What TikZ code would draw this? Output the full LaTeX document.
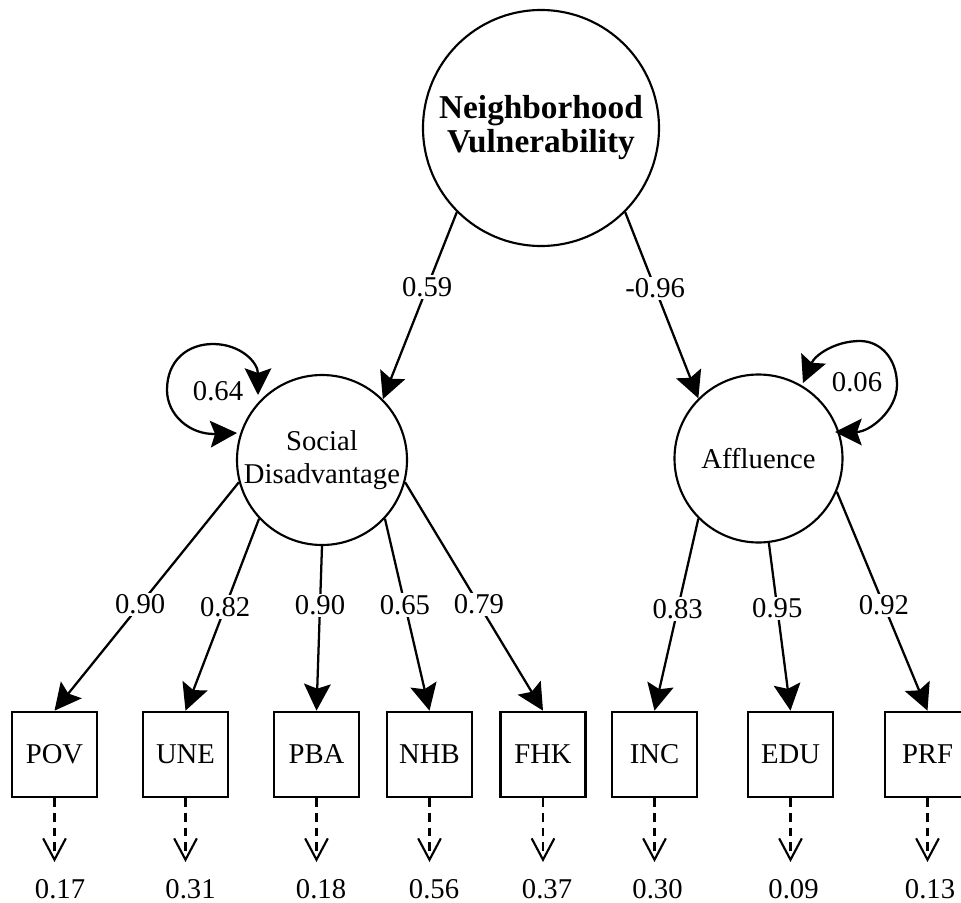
\documentclass[tikz,border=0pt]{standalone}
\usepackage{fontspec}
\setmainfont{Liberation Serif}
\usetikzlibrary{arrows.meta}
\begin{document}
\begin{tikzpicture}[x=0.75pt,y=-0.75pt,
  lat/.style={circle,draw,line width=1.6pt,inner sep=0pt,align=center,font=\fontsize{21.5}{25}\selectfont},
  obs/.style={draw,line width=2pt,minimum size=63.75pt,inner sep=0pt,font=\fontsize{21.5}{25}\selectfont},
  load/.style={line width=1.7pt,-{Stealth[length=20pt,width=20pt,inset=3.5pt]}},
  var/.style={line width=1.7pt,{Stealth[length=20pt,width=20pt,inset=3.5pt]}-{Stealth[length=20pt,width=20pt,inset=3.5pt]}},
  err/.style={line width=1.6pt,dash pattern=on 6.5pt off 4.5pt,-{Straight Barb[length=16pt,width=17pt]}},
  lbl/.style={fill=white,inner sep=1.5pt,font=\fontsize{21.5}{25}\selectfont},
  num/.style={inner sep=0pt,font=\fontsize{21.5}{25}\selectfont}]
\useasboundingbox (0,0) rectangle (961,903);
\clip (0,0) rectangle (961,903);

% latent variables
\node[lat,minimum size=177pt,font=\bfseries\fontsize{25}{25.5}\selectfont] (nv) at (541,128) {Neighborhood\\Vulnerability};
\node[lat,minimum size=127.5pt] (sd) at (322,460) {Social\\Disadvantage};
\node[lat,minimum size=126pt] (af) at (758.5,458.5) {Affluence};

% observed variables
\node[obs] (pov) at (54.5,754.5) {POV};
\node[obs] (une) at (185.5,754.5) {UNE};
\node[obs] (pba) at (316.5,754.5) {PBA};
\node[obs] (nhb) at (429.5,754.5) {NHB};
\node[obs] (fhk) at (543,754.5) {FHK};
\node[obs] (inc) at (654.5,754.5) {INC};
\node[obs] (edu) at (790.5,754.5) {EDU};
\node[obs] (prf) at (927.5,754.5) {PRF};

% second-order loadings
\draw[load] (nv.225) -- node[lbl,pos=.40]{0.59} (sd.45);
\draw[load] (nv.315) -- node[lbl,pos=.41]{-0.96} (af.135);

% first-order loadings
\draw[load] (sd.195) -- node[lbl,pos=.535]{0.90} (pov.north);
\draw[load] (sd.223) -- node[lbl,pos=.46]{0.82} (une.north);
\draw[load] (sd.270) -- node[lbl,pos=.36]{0.90} (pba.north);
\draw[load] (sd.317) -- node[lbl,pos=.45]{0.65} (nhb.north);
\draw[load] (sd.345) -- node[lbl,pos=.535]{0.79} (fhk.north);
\draw[load] (af.225) -- node[lbl,pos=.47]{0.83} (inc.north);
\draw[load] (af.277) -- node[lbl,pos=.39]{0.95} (edu.north);
\draw[load] (af.337) -- node[lbl,pos=.52]{0.92} (prf.north);

% residual variances of latent factors
\coordinate (sdA) at (237,433);
\coordinate (sdB) at (258,395);
\draw[var] (sdA) .. controls (190,435) and (167,415) .. (167,390)
  .. controls (167,360) and (188,344) .. (213,344)
  .. controls (240,344) and (258,362) .. (sdB);
\node[num] (sdv) at (218,391) {0.64};

\coordinate (afA) at (835,432);
\coordinate (afB) at (803,383);
\draw[var] (afA) .. controls (870,432) and (897,410) .. (897,385)
  .. controls (897,358) and (880,341) .. (860,341)
  .. controls (835,341) and (815,355) .. (afB);
\node[num] (afv) at (857,382) {0.06};

% error terms
\coordinate (e1) at (54.5,862);
\coordinate (e2) at (185.5,862);
\coordinate (e3) at (316.5,862);
\coordinate (e4) at (429.5,862);
\coordinate (e5) at (543,862);
\coordinate (e6) at (654.5,862);
\coordinate (e7) at (790.5,862);
\coordinate (e8) at (927.5,862);
\draw[err] (pov.south) -- (e1);
\draw[err] (une.south) -- (e2);
\draw[err] (pba.south) -- (e3);
\draw[err] (nhb.south) -- (e4);
\draw[err] (fhk.south) -- (e5);
\draw[err] (inc.south) -- (e6);
\draw[err] (edu.south) -- (e7);
\draw[err] (prf.south) -- (e8);
\node[num] (r1) at (60,889) {0.17};
\node[num] (r2) at (190.5,889) {0.31};
\node[num] (r3) at (321,889) {0.18};
\node[num] (r4) at (434,889) {0.56};
\node[num] (r5) at (547,889) {0.37};
\node[num] (r6) at (657.5,889) {0.30};
\node[num] (r7) at (793.5,889) {0.09};
\node[num] (r8) at (930,889) {0.13};
\end{tikzpicture}
\end{document}
